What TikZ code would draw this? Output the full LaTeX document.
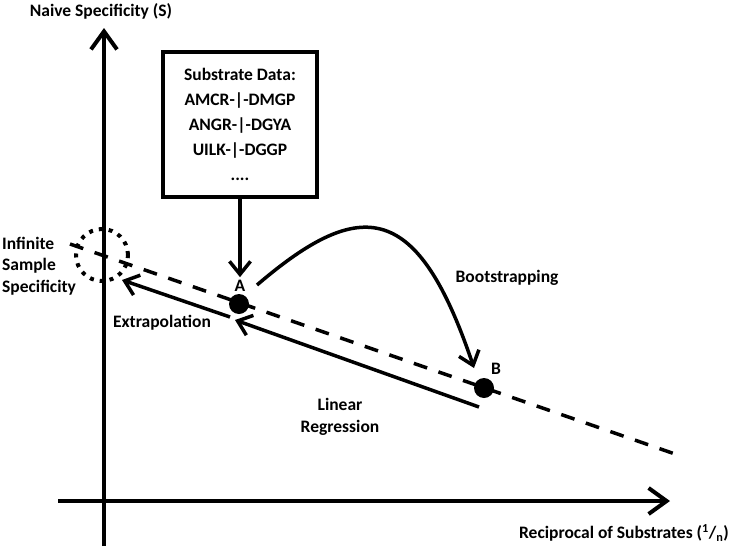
\documentclass[tikz,border=0pt]{standalone}
\usepackage{fontspec}
\setmainfont{Carlito}
\usetikzlibrary{arrows.meta}
\tikzset{
  lab/.style={font=\bfseries\fontsize{17.5}{21.5}\selectfont, inner sep=0pt},
  dot/.style={circle, fill=black, minimum size=20pt, inner sep=0pt},
  arr/.style={line width=3.5pt, -{Straight Barb[length=13pt,width=21pt]}},
  axis/.style={line width=4pt, -{Straight Barb[length=18pt,width=26pt]}},
}
\begin{document}
\begin{tikzpicture}[x=1pt,y=-1pt]
\useasboundingbox (0,0) rectangle (733,546);

\coordinate (ybot) at (104,546);
\coordinate (ytop) at (104,28);
\coordinate (xleft) at (58,501);
\coordinate (xright) at (670,501);
\draw[axis] (ybot) -- (ytop);
\draw[axis] (xleft) -- (xright);

\node[lab] (ylab) at (101,11) {Naive Specificity (S)};
\node[lab] (xlab) at (624,533) {Reciprocal of Substrates (\textsuperscript{1}/\textsubscript{n})};

\coordinate (dl) at (70,244);
\coordinate (dr) at (675,454);
\draw[line width=3.5pt, dash pattern=on 14pt off 12pt] (dl) -- (dr);

\node[circle, draw, line width=4pt, dash pattern=on 4pt off 6pt, minimum size=52pt, inner sep=0pt] (inf) at (102,255) {};

\node[lab, draw, line width=3.5pt, minimum width=154pt, minimum height=145pt, align=center,
  font=\bfseries\fontsize{17.5}{25}\selectfont] (data) at (240,124.5)
  {Substrate Data:\\AMCR-|-DMGP\\ANGR-|-DGYA\\UILK-|-DGGP\\....};

\node[dot] (A) at (239,304) {};
\node[lab] (Alab) at (240,286) {A};
\node[dot] (B) at (484,388) {};
\node[lab] (Blab) at (496,369) {B};

\draw[arr, shorten >=3pt] (data.south) -- (Alab.north);

\coordinate (regS) at (479,407);
\coordinate (regE) at (235,320);
\draw[arr] (regS) -- (regE);

\coordinate (extS) at (230,317);
\coordinate (extE) at (122,280);
\draw[arr] (extS) -- (extE);

\coordinate (bsS) at (257,285);
\coordinate (bsE) at (474,368);
\draw[arr] (bsS) .. controls (362,195) and (418,202) .. (bsE);

\node[lab, align=left, anchor=west] (inflab) at (2,266) {Infinite\\Sample\\Specificity};
\node[lab] (extlab) at (162,323) {Extrapolation};
\node[lab] (bootlab) at (507,278) {Bootstrapping};
\node[lab, align=center] (reglab) at (340,417) {Linear\\Regression};
\end{tikzpicture}
\end{document}
